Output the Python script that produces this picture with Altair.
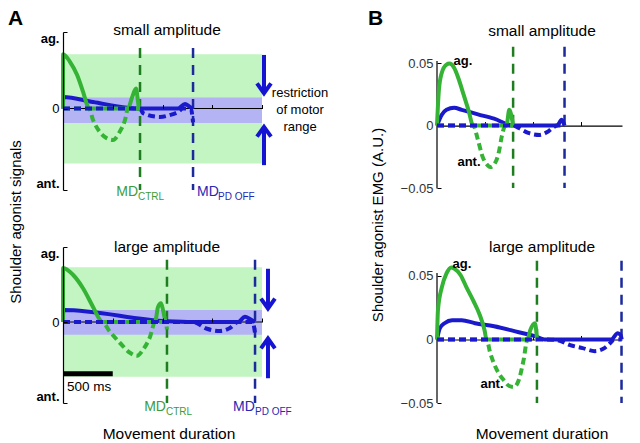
import altair as alt
import pandas as pd

FONT = "Liberation Sans"
GREEN = "#35b335"
BLUE = "#1a1acc"
GREEN_MD = "#1e7d1e"
BLUE_MD = "#1c2a9c"
GREEN_TXT = "#3c9c3c"
BLUE_TXT = "#2828b4"
GREEN_BAND = "#c2f5c2"
BLUE_BAND = "#b4b4f4"
ARROW = "#1414d2"

A_TICKS = [0, 500, 1000, 1500, 2000]
B_TICKS = [0, 500, 1000, 1500]
A_XDOM = [0, 2000]
B_XDOM = [0, 1925]

# ---------------- Panel A, small amplitude (ms, relative units) ----------------
As_gag_t = [0, 1, 70, 141, 201, 251, 261, 653, 693, 734, 754, 764, 774]
As_gag_v = [0, 0.71, 0.61, 0.44, 0.22, 0.02, 0, 0, 0.14, 0.26, 0.085, 0, 0]
As_gant_t = [0, 261, 302, 372, 442, 503, 563, 623, 653, 764, 774]
As_gant_v = [0, 0, -0.15, -0.31, -0.39, -0.41, -0.32, -0.15, 0, 0, -0.06]
As_bag_t = [0, 1, 302, 643, 724, 1156, 1226, 1276, 1307]
As_bag_v = [0, 0.15, 0.085, 0.01, 0, 0, 0.06, 0.02, 0]
As_bant_t = [0, 774, 804, 975, 1075, 1156, 1206, 1285, 1307]
As_bant_v = [0, 0, -0.06, -0.11, -0.085, -0.045, 0, 0, -0.18]
As_md = [774, 1307]
As_green_band = [-0.72, 0.71]
As_blue_band = [-0.19, 0.145]
As_md_span = [0.79, -1.065]
As_arrow_x = 2020
As_arrow_down = [0.70, 0.20]
As_arrow_up = [-0.74, -0.24]

# ---------------- Panel A, large amplitude ----------------
Al_gag_t = [0, 1, 100, 201, 302, 372, 392, 925, 955, 985, 1005, 1035, 1045]
Al_gag_v = [0, 0.72, 0.63, 0.45, 0.2, 0.027, 0, 0, 0.2, 0.25, 0.16, 0, 0]
Al_gant_t = [0, 392, 472, 573, 673, 744, 804, 874, 925, 1030, 1045]
Al_gant_v = [0, 0, -0.13, -0.28, -0.41, -0.45, -0.37, -0.2, 0, 0, -0.1]
Al_bag_t = [0, 1, 1045, 1307, 1760, 1829, 1879, 1930]
Al_bag_v = [0, 0.16, 0.01, 0, 0, 0.07, 0.04, 0]
Al_bant_t = [0, 1307, 1447, 1578, 1678, 1760, 1905, 1930]
Al_bant_v = [0, 0, -0.09, -0.12, -0.08, 0, 0, -0.15]
Al_md = [1045, 1930]
Al_green_band = [-0.73, 0.73]
Al_blue_band = [-0.17, 0.16]
Al_md_span = [0.83, -1.08]
Al_arrow_x = 2060
Al_arrow_down = [0.71, 0.18]
Al_arrow_up = [-0.75, -0.22]
Al_bar = [0, 500, -0.69]

# ---------------- Panel B, small amplitude (ms, A.U.) ----------------
Bs_gag_t = [0, 20, 50, 99, 129, 178, 228, 277, 327, 376, 723, 752, 792]
Bs_gag_v = [0, 0.0287, 0.0423, 0.0488, 0.0496, 0.0463, 0.0367, 0.0247, 0.0126, 0, 0, 0.0126, 0]
Bs_gant_t = [0, 376, 426, 475, 525, 554, 604, 644, 673, 703, 723, 792]
Bs_gant_v = [0, 0, -0.0115, -0.0251, -0.0316, -0.0332, -0.030, -0.0211, -0.0091, -0.001, 0, 0]
Bs_bag_t = [0, 50, 99, 178, 257, 426, 594, 792, 1251, 1297, 1327]
Bs_bag_v = [0, 0.0086, 0.0126, 0.0142, 0.0126, 0.009, 0.0055, 0, 0, 0.0046, 0]
Bs_bant_t = [0, 792, 851, 950, 1069, 1148, 1218, 1248, 1327]
Bs_bant_v = [0, 0, -0.002, -0.0059, -0.0075, -0.0051, -0.001, 0, 0]
Bs_md = [792, 1327]
Bs_md_span = [0.063, -0.05]
Bs_yaxis_span = [0.0516, -0.0504]

# ---------------- Panel B, large amplitude ----------------
Bl_gag_t = [0, 10, 50, 99, 149, 178, 248, 307, 376, 446, 495, 515, 941, 970, 1020, 1040]
Bl_gag_v = [0, 0.023, 0.041, 0.052, 0.0567, 0.0559, 0.0504, 0.041, 0.0308, 0.0191, 0.0073, 0, 0, 0.0073, 0.0128, 0]
Bl_gant_t = [0, 515, 554, 624, 693, 752, 802, 851, 901, 941, 1040]
Bl_gant_v = [0, 0, -0.0107, -0.0241, -0.0319, -0.0366, -0.0374, -0.0319, -0.0162, 0, 0]
Bl_bag_t = [0, 30, 79, 158, 257, 396, 594, 851, 1020, 1119, 1812, 1881, 1911, 1922]
Bl_bag_v = [0, 0.0089, 0.0128, 0.0151, 0.0151, 0.0128, 0.0104, 0.0057, 0.0026, 0, 0, 0.005, 0.0034, 0]
Bl_bant_t = [0, 1119, 1247, 1386, 1515, 1643, 1742, 1812, 1841, 1922]
Bl_bant_v = [0, 0, -0.0005, -0.0045, -0.0068, -0.0092, -0.0068, -0.0021, 0, 0]
Bl_md = [1040, 1920]
Bl_md_span = [0.062, -0.05]
Bl_yaxis_span = [0.0524, -0.05]


def make_enc(kind, W, H, ydom):
    zero_px = H * ydom[1] / (ydom[1] - ydom[0])
    ys = alt.Scale(domain=ydom, nice=False, zero=False)
    if kind == "A":
        xs = alt.Scale(domain=A_XDOM, nice=False, zero=False)
        xa = alt.Axis(orient="top", offset=-zero_px, values=A_TICKS, labels=False,
                      domain=False, tickSize=4, tickColor="black", tickWidth=1,
                      grid=False, title=None, zindex=1, minExtent=0, maxExtent=0)
        ya = alt.Axis(orient="right", offset=-W, values=[ydom[0], 0, ydom[1]],
                      labelExpr="datum.value > 0.5 ? 'ag.' : (datum.value < -0.5 ? 'ant.' : '0')",
                      labelAlign="right", labelPadding=-8, labelFlush=True,
                      labelFontWeight={"condition": {"test": "abs(datum.value) > 0.5", "value": "bold"},
                                       "value": "normal"},
                      labelFont=FONT, labelFontSize=13, labelColor="black",
                      tickSize=4, tickColor="black", domainColor="black", domainWidth=1.2,
                      grid=False, title=None, zindex=1, minExtent=0, maxExtent=0)
    else:
        xs = alt.Scale(domain=B_XDOM, nice=False, zero=False)
        xa = alt.Axis(orient="top", offset=-zero_px, values=B_TICKS, labels=False,
                      domain=True, domainColor="black", domainWidth=1.2,
                      tickSize=4, tickColor="black", tickWidth=1, grid=False, title=None,
                      minExtent=0, maxExtent=0)
        ya = alt.Axis(orient="right", offset=-W, values=[-0.05, 0, 0.05],
                      labelExpr="datum.value > 0.01 ? '0.05' : (datum.value < -0.01 ? '\u22120.05' : '0')",
                      labelAlign="right", labelPadding=-8, labelFlush=False, domain=False,
                      labelFont=FONT, labelFontSize=13, labelColor="#333333",
                      tickSize=4, tickColor="black", grid=False, title=None,
                      minExtent=0, maxExtent=0)

    def X(f="t"):
        return alt.X(f"{f}:Q", scale=xs, axis=xa)

    def Y(f="v"):
        return alt.Y(f"{f}:Q", scale=ys, axis=ya)
    return X, Y


def curve(X, Y, t, v, color, dashed):
    kw = dict(color=color, strokeWidth=4, interpolate="monotone", strokeCap="butt")
    if dashed:
        kw["strokeDash"] = [7, 4]
    return alt.Chart(pd.DataFrame({"t": t, "v": v})).mark_line(**kw).encode(x=X(), y=Y())


def md_lines(X, Y, md, span):
    out = []
    for t, c in zip(md, [GREEN_MD, BLUE_MD]):
        df = pd.DataFrame({"t": [t], "v0": [span[0]], "v1": [span[1]]})
        out.append(alt.Chart(df).mark_rule(color=c, strokeWidth=2.5, strokeDash=[10, 7])
                   .encode(x=X("t"), y=Y("v0"), y2="v1"))
    return out


def ptext(label, x, y, size=15.5, color="black", weight="normal", align="center",
          baseline="middle", angle=0):
    return alt.Chart(pd.DataFrame({"label": [label]})).mark_text(
        font=FONT, fontSize=size, color=color, fontWeight=weight, align=align,
        baseline=baseline, angle=angle).encode(x=alt.value(x), y=alt.value(y), text="label:N")


def dtext(X, Y, label, t, v, size=13, color="black", weight="bold", align="center"):
    return alt.Chart(pd.DataFrame({"label": [label], "t": [t], "v": [v]})).mark_text(
        font=FONT, fontSize=size, color=color, fontWeight=weight, align=align,
        baseline="middle").encode(x=X(), y=Y(), text="label:N")


def md_labels(X, md, y_main, y_sub, g_dx, b_dx, b_sub_dx):
    out = []
    dfg = pd.DataFrame({"t": [md[0]], "a": ["MD"], "b": ["CTRL"]})
    dfb = pd.DataFrame({"t": [md[1]], "a": ["MD"], "b": ["PD OFF"]})
    out.append(alt.Chart(dfg).mark_text(font=FONT, fontSize=14, color=GREEN_TXT, align="right",
                                        baseline="middle", dx=g_dx)
               .encode(x=X(), y=alt.value(y_main), text="a:N"))
    out.append(alt.Chart(dfg).mark_text(font=FONT, fontSize=10, color=GREEN_TXT, align="left",
                                        baseline="middle", dx=g_dx)
               .encode(x=X(), y=alt.value(y_sub), text="b:N"))
    out.append(alt.Chart(dfb).mark_text(font=FONT, fontSize=14, color=BLUE_TXT, align="left",
                                        baseline="middle", dx=b_dx)
               .encode(x=X(), y=alt.value(y_main), text="a:N"))
    out.append(alt.Chart(dfb).mark_text(font=FONT, fontSize=10, color=BLUE_TXT, align="left",
                                        baseline="middle", dx=b_sub_dx)
               .encode(x=X(), y=alt.value(y_sub), text="b:N"))
    return out


def arrows(X, Y, ax, down, up):
    out = []
    for (v0, v1), shape in [(down, "M-1,-1.4L0,0L1,-1.4"), (up, "M-1,1.4L0,0L1,1.4")]:
        df = pd.DataFrame({"t": [ax], "v0": [v0], "v1": [v1]})
        out.append(alt.Chart(df).mark_rule(color=ARROW, strokeWidth=4)
                   .encode(x=X("t"), y=Y("v0"), y2="v1"))
        out.append(alt.Chart(df).mark_point(shape=shape, size=196, filled=False, opacity=1,
                                            stroke=ARROW, strokeWidth=4, strokeJoin="miter")
                   .encode(x=X("t"), y=Y("v1")))
    return out


def panel_A(W, H, ydom, g, gant, b, bant, md, gband, bband, span, ax, down, up, large):
    X, Y = make_enc("A", W, H, ydom)
    bands = []
    for (lo, hi), c in [(gband, GREEN_BAND), (bband, BLUE_BAND)]:
        df = pd.DataFrame({"t0": [A_XDOM[0]], "t1": [A_XDOM[1]], "lo": [lo], "hi": [hi]})
        bands.append(alt.Chart(df).mark_rect(color=c).encode(x=X("t0"), x2="t1", y=Y("lo"), y2="hi"))
    zero = alt.Chart(pd.DataFrame({"t0": [A_XDOM[0]], "t1": [A_XDOM[1]], "v": [0]})).mark_rule(
        color="black", strokeWidth=1.2).encode(x=X("t0"), x2="t1", y=Y("v"))
    layers = bands + [zero] + md_lines(X, Y, md, span) + [
        curve(X, Y, b[0], b[1], BLUE, False),
        curve(X, Y, g[0], g[1], GREEN, False),
        curve(X, Y, gant[0], gant[1], GREEN, True),
        curve(X, Y, bant[0], bant[1], BLUE, True),
    ] + arrows(X, Y, ax, down, up)
    if large:
        bar = alt.Chart(pd.DataFrame({"t0": [Al_bar[0]], "t1": [Al_bar[1]], "v": [Al_bar[2]]})).mark_rule(
            color="black", strokeWidth=5).encode(x=X("t0"), x2="t1", y=Y("v"))
        layers += [bar, dtext(X, Y, "500 ms", 40, -0.87, size=13.5, weight="normal", align="left")]
        layers += md_labels(X, md, 160, 165, -1, -22, 0)
        layers += [ptext("large amplitude", 104, 0),
                   ptext("Movement duration", 106, 187)]
    else:
        layers += md_labels(X, md, 160, 165, -2, 4, 25)
        layers += [ptext("small amplitude", 104, -2),
                   ptext("A", -55, -24, size=21, weight="bold", align="left", baseline="top"),
                   ptext("Shoulder agonist signals", -47, 190, size=15, angle=270),
                   ptext("restriction", 237, 61, size=13),
                   ptext("of motor", 237, 78, size=13),
                   ptext("range", 237, 95, size=13)]
    return alt.layer(*layers).properties(width=W, height=H)


def panel_B(W, H, ydom, g, gant, b, bant, md, span, yspan, large):
    X, Y = make_enc("B", W, H, ydom)
    yline = alt.Chart(pd.DataFrame({"t": [0], "v0": [yspan[0]], "v1": [yspan[1]]})).mark_rule(
        color="black", strokeWidth=1.2).encode(x=X("t"), y=Y("v0"), y2="v1")
    layers = [yline] + md_lines(X, Y, md, span) + [
        curve(X, Y, b[0], b[1], BLUE, False),
        curve(X, Y, g[0], g[1], GREEN, False),
        curve(X, Y, gant[0], gant[1], GREEN, True),
        curve(X, Y, bant[0], bant[1], BLUE, True),
    ]
    if large:
        layers += [dtext(X, Y, "ag.", 260, 0.0598), dtext(X, Y, "ant.", 572, -0.035),
                   ptext("large amplitude", 105, 0),
                   ptext("Movement duration", 105, 187)]
    else:
        layers += [dtext(X, Y, "ag.", 270, 0.052), dtext(X, Y, "ant.", 333, -0.0293),
                   ptext("small amplitude", 105, -1),
                   ptext("B", -69, -24, size=21, weight="bold", align="left", baseline="top"),
                   ptext("Shoulder agonist EMG (A.U.)", -59, 193, size=15, angle=270)]
    return alt.layer(*layers).properties(width=W, height=H)


A_top = panel_A(199, 158, [-1.065, 1], (As_gag_t, As_gag_v), (As_gant_t, As_gant_v),
                (As_bag_t, As_bag_v), (As_bant_t, As_bant_v), As_md, As_green_band,
                As_blue_band, As_md_span, As_arrow_x, As_arrow_down, As_arrow_up, False)
A_bot = panel_A(199, 156, [-1.08, 1], (Al_gag_t, Al_gag_v), (Al_gant_t, Al_gant_v),
                (Al_bag_t, Al_bag_v), (Al_bant_t, Al_bant_v), Al_md, Al_green_band,
                Al_blue_band, Al_md_span, Al_arrow_x, Al_arrow_down, Al_arrow_up, True)
B_top = panel_B(185, 158, [-0.0516, 0.0749], (Bs_gag_t, Bs_gag_v), (Bs_gant_t, Bs_gant_v),
                (Bs_bag_t, Bs_bag_v), (Bs_bant_t, Bs_bant_v), Bs_md, Bs_md_span, Bs_yaxis_span, False)
B_bot = panel_B(185, 156, [-0.05, 0.0728], (Bl_gag_t, Bl_gag_v), (Bl_gant_t, Bl_gant_v),
                (Bl_bag_t, Bl_bag_v), (Bl_bant_t, Bl_bant_v), Bl_md, Bl_md_span, Bl_yaxis_span, True)

chart = alt.concat(A_top, B_top, A_bot, B_bot, columns=2, align="each",
                   spacing={"row": 57, "column": 175}, bounds="flush").properties(
    padding=0, background="white").configure_view(strokeWidth=0)

chart.save("out.html", embed_options={"renderer": "svg", "actions": False})
